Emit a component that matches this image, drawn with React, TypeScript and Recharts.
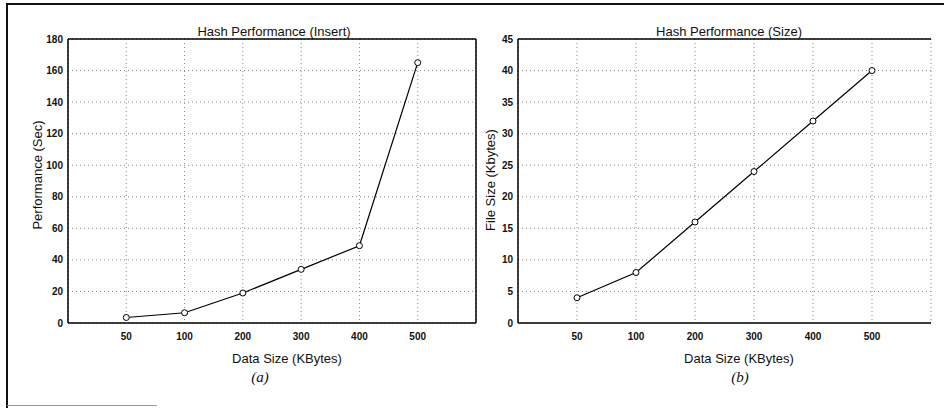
import React from "react";
import {
  LineChart,
  Line,
  XAxis,
  YAxis,
  CartesianGrid,
  ReferenceLine,
} from "recharts";

const sizeLabels = ["50", "100", "200", "300", "400", "500"];
const insertSec = [3.5, 6.5, 19, 34, 49, 165];
const fileKbytes = [4, 8, 16, 24, 32, 40];
const insertTicks = [0, 20, 40, 60, 80, 100, 120, 140, 160, 180];
const sizeTicks = [0, 5, 10, 15, 20, 25, 30, 35, 40, 45];
const xSlots = [1, 2, 3, 4, 5, 6];

const insertRows = sizeLabels.map((s, i) => ({ slot: xSlots[i], size: s, value: insertSec[i] }));
const sizeRows = sizeLabels.map((s, i) => ({ slot: xSlots[i], size: s, value: fileKbytes[i] }));

const sans = "'Liberation Sans', Arial, sans-serif";
const tickStyle = { fontSize: 10, fontWeight: 700, fill: "#111", fontFamily: sans };

const fmtSlot = (v: number) => sizeLabels[v - 1] ?? "";

interface TextProps {
  x: number;
  y: number;
  text: string;
  size?: number;
  rotate?: boolean;
  serif?: boolean;
}

const Caption: React.FC<TextProps> = ({ x, y, text, size = 13, rotate, serif }) => (
  <div
    style={{
      position: "absolute",
      left: x,
      top: y,
      transform: `translate(-50%, -50%)${rotate ? " rotate(-90deg)" : ""}`,
      whiteSpace: "nowrap",
      fontFamily: serif ? "'Liberation Serif', 'Times New Roman', serif" : sans,
      fontStyle: serif ? "italic" : "normal",
      fontSize: size,
      color: "#111",
      lineHeight: 1,
    }}
  >
    {text}
  </div>
);

interface PanelProps {
  rows: { slot: number; size: string; value: number }[];
  ticks: number[];
  yAxisWidth: number;
  width: number;
  left: number;
  marginRight: number;
  rightBorder: boolean;
}

const Panel: React.FC<PanelProps> = ({ rows, ticks, yAxisWidth, width, left, marginRight, rightBorder }) => {
  const yMax = ticks[ticks.length - 1];
  return (
    <div style={{ position: "absolute", left, top: 0 }}>
      <LineChart
        width={width}
        height={408}
        data={rows}
        margin={{ top: 39, right: marginRight, bottom: 55, left: 0 }}
      >
        <CartesianGrid stroke="#888" strokeDasharray="1 3" />
        <XAxis
          dataKey="slot"
          type="number"
          domain={[0, 7]}
          ticks={xSlots}
          tickFormatter={fmtSlot}
          tick={tickStyle}
          tickLine={false}
          tickSize={0}
          tickMargin={10}
          height={30}
          axisLine={{ stroke: "#000", strokeWidth: 1.5 }}
        />
        <YAxis
          type="number"
          domain={[0, yMax]}
          ticks={ticks}
          tick={tickStyle}
          tickLine={false}
          tickSize={0}
          tickMargin={5}
          width={yAxisWidth}
          axisLine={{ stroke: "#000", strokeWidth: 1.5 }}
        />
        <ReferenceLine y={yMax} stroke="#000" strokeWidth={1.5} />
        {rightBorder && <ReferenceLine x={7} stroke="#000" strokeWidth={1.5} />}
        <Line
          type="linear"
          dataKey="value"
          stroke="#000"
          strokeWidth={1.2}
          dot={{ r: 3, stroke: "#000", strokeWidth: 1, fill: "#fff" }}
          isAnimationActive={false}
        />
      </LineChart>
    </div>
  );
};

export default function App() {
  return (
    <div
      style={{
        position: "absolute",
        left: 0,
        top: 0,
        width: 944,
        height: 408,
        background: "#fff",
        overflow: "hidden",
      }}
    >
      <div
        style={{
          position: "absolute",
          left: 6,
          top: 3,
          width: 950,
          height: 420,
          borderTop: "2px solid #111",
          borderLeft: "2px solid #111",
        }}
      />
      <div style={{ position: "absolute", left: 7, top: 405, width: 150, height: 1, background: "#999" }} />

      <Panel rows={insertRows} ticks={insertTicks} yAxisWidth={68} width={480} left={0} marginRight={4} rightBorder />
      <Panel rows={sizeRows} ticks={sizeTicks} yAxisWidth={48} width={474} left={470} marginRight={13} rightBorder={false} />

      <Caption x={274} y={31} text="Hash Performance (Insert)" />
      <Caption x={37} y={175} text="Performance (Sec)" rotate />
      <Caption x={287} y={358} text="Data Size (KBytes)" />
      <Caption x={260} y={377} text="(a)" size={15} serif />

      <Caption x={729} y={31} text="Hash Performance (Size)" />
      <Caption x={490} y={180} text="File Size (Kbytes)" rotate />
      <Caption x={739} y={358} text="Data Size (KBytes)" />
      <Caption x={740} y={377} text="(b)" size={15} serif />
    </div>
  );
}
